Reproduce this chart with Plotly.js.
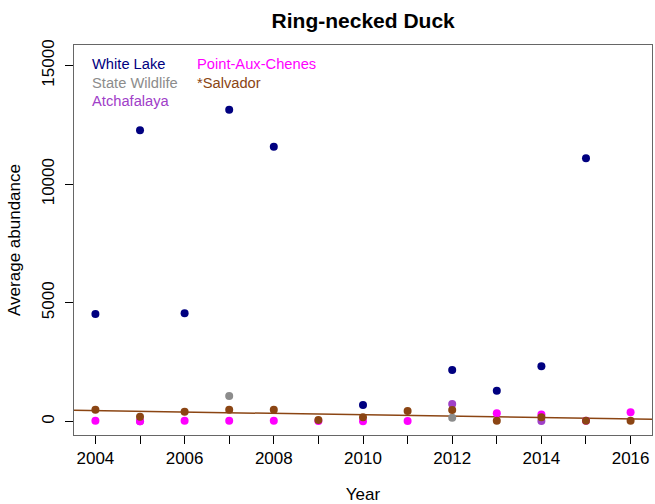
<!DOCTYPE html>
<html>
<head>
<meta charset="utf-8">
<script src="https://cdn.plot.ly/plotly-3.0.1.min.js"></script>
<style>html,body{margin:0;padding:0;background:#fff}#chart{width:655px;height:504px}</style>
</head>
<body>
<div id="chart"></div>
<script>
var years = [2004, 2005, 2006, 2007, 2008, 2009, 2010, 2011, 2012, 2013, 2014, 2015, 2016];
var whiteLake      = [4530, 12270, 4560, 13140, 11580, null, 695, null, 2170, 1300, 2330, 11090, null];
var stateWildlife  = [null, null, null, 1075, null, null, null, null, 160, null, null, null, null];
var atchafalaya    = [null, 10, null, null, null, null, null, null, 737, null, 20, null, null];
var pointAuxChenes = [30, 10, 30, 30, 30, 20, 10, 20, null, 345, 300, 30, 390];
var salvador       = [500, 200, 415, 500, 500, 60, 175, 440, 485, 30, 175, 30, 30];
var trendYears = [2003.52, 2016.48];
var trendValues = [470, 95];
var seriesNames = ['White Lake', 'State Wildlife', 'Atchafalaya', 'Point-Aux-Chenes', '*Salvador'];
var seriesColors = ['#000080', '#8c8c8c', '#a040c8', '#ff00ff', '#8b4513'];
var xTickVals = years;
var xTickText = ['2004', '', '2006', '', '2008', '', '2010', '', '2012', '', '2014', '', '2016'];
var yTickVals = [0, 5000, 10000, 15000];
var yTickText = ['0', '5000', '10000', '15000'];

var allSeries = [whiteLake, stateWildlife, atchafalaya, pointAuxChenes, salvador];
var traces = [];
traces.push({x: trendYears, y: trendValues, mode: 'lines', line: {color: seriesColors[4], width: 1.5}, showlegend: false, hoverinfo: 'skip'});
allSeries.forEach(function (s, i) {
  traces.push({x: years, y: s, mode: 'markers', name: seriesNames[i],
    marker: {color: seriesColors[i], size: 8}, showlegend: false});
});

var font = 'Liberation Sans, Arial, sans-serif';
var annotations = [];
var legendPos = [[0, 0], [0, 1], [0, 2], [1, 0], [1, 1]];
var legendX = [90, 195];
var legendY0 = 64, legendDy = 18.5;
seriesNames.forEach(function (n, i) {
  annotations.push({text: n, xref: 'paper', yref: 'paper',
    x: (legendX[legendPos[i][0]] - 74) / 578,
    y: (435 - (legendY0 + legendPos[i][1] * legendDy)) / 390,
    xanchor: 'left', yanchor: 'middle', showarrow: false,
    font: {family: font, size: 14.7, color: seriesColors[i]}});
});

var layout = {
  width: 655, height: 504,
  margin: {l: 74, r: 3, t: 45, b: 69},
  paper_bgcolor: '#fff', plot_bgcolor: '#fff',
  font: {family: font, size: 17, color: '#000'},
  title: {text: '<b>Ring-necked Duck</b>', font: {family: font, size: 21, color: '#000'}, x: 0.5545, xanchor: 'center', y: 0.96, yanchor: 'middle'},
  xaxis: {range: [2003.52, 2016.48], tickvals: xTickVals, ticktext: xTickText, ticks: 'outside', ticklen: 8, tickcolor: '#000',
    showgrid: false, zeroline: false, showline: true, linecolor: '#666', linewidth: 1, mirror: true,
    tickfont: {size: 17}, title: {text: 'Year', font: {size: 17}, standoff: 20}},
  yaxis: {range: [-569, 15866], tickvals: yTickVals, ticktext: yTickText, ticks: 'outside', ticklen: 8, tickcolor: '#000', tickangle: -90,
    ticklabelstandoff: 4,
    showgrid: false, zeroline: false, showline: true, linecolor: '#666', linewidth: 1, mirror: true,
    tickfont: {size: 17}, title: {text: 'Average abundance', font: {size: 17}, standoff: 14}},
  annotations: annotations,
  showlegend: false
};
Plotly.newPlot('chart', traces, layout, {displayModeBar: false, staticPlot: true});
</script>
</body>
</html>
